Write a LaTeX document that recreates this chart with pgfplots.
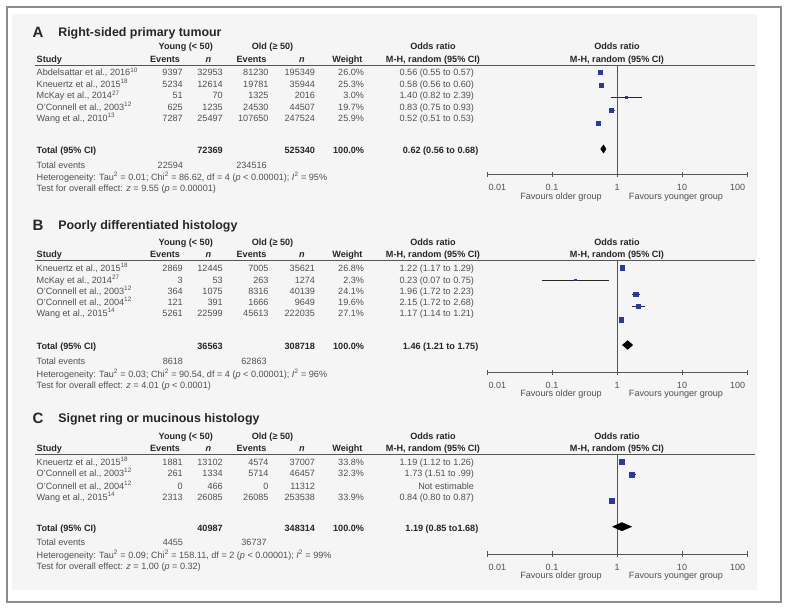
\documentclass[border=0pt]{standalone}
\usepackage{pgfplots}
\pgfplotsset{compat=1.18}
\usepackage{fontspec}
\setmainfont{Liberation Sans}
\definecolor{txt}{HTML}{505050}
\definecolor{hdr}{HTML}{262626}
\definecolor{sq}{HTML}{2B3A98}
\definecolor{rulec}{HTML}{555555}
\definecolor{framec}{HTML}{8C8C8C}
\definecolor{bg}{HTML}{F5F5F5}
\newcommand{\bodyfont}{\fontsize{9.1}{11}\selectfont}
\newcommand{\sups}[1]{\textsuperscript{#1}}

% table row: y, study, young events, young n, old events, old n, weight, OR
\newcommand{\trow}[8]{%
  \node[anchor=base west] at (36.7,#1+3.3) {#2};
  \node[anchor=base east] at (182.7,#1+3.3) {#3};
  \node[anchor=base east] at (222.7,#1+3.3) {#4};
  \node[anchor=base east] at (268.5,#1+3.3) {#5};
  \node[anchor=base east] at (315,#1+3.3) {#6};
  \node[anchor=base east] at (364,#1+3.3) {#7};
  \node[anchor=base east] at (474,#1+3.3) {#8};}
% header: top y, bottom y, rule y
\newcommand{\thd}[3]{%
  \node[anchor=base, font=\bodyfont\bfseries, text=hdr] at (185.8,#1+3.3) {Young (< 50)};
  \node[anchor=base, font=\bodyfont\bfseries, text=hdr] at (272.5,#1+3.3) {Old (≥ 50)};
  \node[anchor=base, font=\bodyfont\bfseries, text=hdr] at (433,#1+3.3) {Odds ratio};
  \node[anchor=base, font=\bodyfont\bfseries, text=hdr] at (617,#1+3.3) {Odds ratio};
  \node[anchor=base west, font=\bodyfont\bfseries, text=hdr] at (36.7,#2+3.3) {Study};
  \node[anchor=base east, font=\bodyfont\bfseries, text=hdr] at (180,#2+3.3) {Events};
  \node[anchor=base, font=\bodyfont\bfseries\itshape, text=hdr] at (208.5,#2+3.3) {n};
  \node[anchor=base east, font=\bodyfont\bfseries, text=hdr] at (266.5,#2+3.3) {Events};
  \node[anchor=base, font=\bodyfont\bfseries\itshape, text=hdr] at (302,#2+3.3) {n};
  \node[anchor=base east, font=\bodyfont\bfseries, text=hdr] at (362.5,#2+3.3) {Weight};
  \node[anchor=base, font=\bodyfont\bfseries, text=hdr] at (433,#2+3.3) {M-H, random (95\% CI)};
  \node[anchor=base, font=\bodyfont\bfseries, text=hdr] at (617,#2+3.3) {M-H, random (95\% CI)};
  \draw[rulec, line width=0.8pt] (35,#3) -- (755,#3);}
% total: y, young n, old n, OR
\newcommand{\ttot}[4]{%
  \node[anchor=base west, font=\bodyfont\bfseries, text=hdr] at (36.7,#1+3.3) {Total (95\% CI)};
  \node[anchor=base east, font=\bodyfont\bfseries, text=hdr] at (222.7,#1+3.3) {#2};
  \node[anchor=base east, font=\bodyfont\bfseries, text=hdr] at (315,#1+3.3) {#3};
  \node[anchor=base east, font=\bodyfont\bfseries, text=hdr] at (364,#1+3.3) {100.0\%};
  \node[anchor=base east, font=\bodyfont\bfseries, text=hdr] at (478.3,#1+3.3) {#4};}
% total events etc
\newcommand{\tft}[7]{%
  \node[anchor=base west] at (36.7,#1+3.3) {Total events};
  \node[anchor=base east] at (183,#1+3.3) {#2};
  \node[anchor=base east] at (266.7,#1+3.3) {#3};
  \node[anchor=base west] at (36.7,#4+3.3) {#5};
  \node[anchor=base west] at (36.7,#6+3.3) {#7};}
\newcommand{\ttl}[3]{%
  \node[anchor=base west, font=\fontsize{15}{16}\selectfont\bfseries, text=hdr] at (32.5,#1+5.4) {#2};
  \node[anchor=base west, font=\fontsize{12.4}{14}\selectfont\bfseries, text=hdr] at (58.3,#1+4.4) {#3};}
\newcommand{\fav}[1]{%
  \node[anchor=base] at (561,#1+3.3) {Favours older group};
  \node[anchor=base] at (676,#1+3.3) {Favours younger group};}

\begin{document}
\begin{tikzpicture}[x=1pt,y=-1pt]
\path (0,0) rectangle (790,610);
\fill[bg] (12,14) rectangle (757,590);
\draw[framec, line width=1.3pt] (7,7) rectangle (781,602);

\begin{scope}[every node/.style={inner sep=0pt, outer sep=0pt, font=\bodyfont, text=txt}]
% ---------------- Panel A ----------------
\ttl{32}{A}{Right-sided primary tumour}
\thd{46}{59}{65}
\trow{72.7}{Abdelsattar et al., 2016\sups{10}}{9397}{32953}{81230}{195349}{26.0\%}{0.56 (0.55 to 0.57)}
\trow{84.3}{Kneuertz et al., 2015\sups{18}}{5234}{12614}{19781}{35944}{25.3\%}{0.58 (0.56 to 0.60)}
\trow{95.7}{McKay et al., 2014\sups{27}}{51}{70}{1325}{2016}{3.0\%}{1.40 (0.82 to 2.39)}
\trow{107}{O'Connell et al., 2003\sups{12}}{625}{1235}{24530}{44507}{19.7\%}{0.83 (0.75 to 0.93)}
\trow{118}{Wang et al., 2010\sups{13}}{7287}{25497}{107650}{247524}{25.9\%}{0.52 (0.51 to 0.53)}
\ttot{150}{72369}{525340}{0.62 (0.56 to 0.68)}
\tft{164.7}{22594}{234516}{176.7}{Heterogeneity: Tau\sups{2} = 0.01; Chi\sups{2} = 86.62, df = 4 (\textit{p} < 0.00001); \textit{I}\sups{2} = 95\%}{187.7}{Test for overall effect: \textit{z} = 9.55 (\textit{p} = 0.00001)}
\fav{196}
% ---------------- Panel B ----------------
\ttl{225}{B}{Poorly differentiated histology}
\thd{242.3}{254}{260.5}
\trow{268.3}{Kneuertz et al., 2015\sups{18}}{2869}{12445}{7005}{35621}{26.8\%}{1.22 (1.17 to 1.29)}
\trow{280}{McKay et al., 2014\sups{27}}{3}{53}{263}{1274}{2.3\%}{0.23 (0.07 to 0.75)}
\trow{290.7}{O'Connell et al., 2003\sups{12}}{364}{1075}{8316}{40139}{24.1\%}{1.96 (1.72 to 2.23)}
\trow{301.7}{O'Connell et al., 2004\sups{12}}{121}{391}{1666}{9649}{19.6\%}{2.15 (1.72 to 2.68)}
\trow{312.7}{Wang et al., 2015\sups{14}}{5261}{22599}{45613}{222035}{27.1\%}{1.17 (1.14 to 1.21)}
\ttot{345.7}{36563}{308718}{1.46 (1.21 to 1.75)}
\tft{361}{8618}{62863}{374}{Heterogeneity: Tau\sups{2} = 0.03; Chi\sups{2} = 90.54, df = 4 (\textit{p} < 0.00001); \textit{I}\sups{2} = 96\%}{385}{Test for overall effect: \textit{z} = 4.01 (\textit{p} < 0.0001)}
\fav{393}
% ---------------- Panel C ----------------
\ttl{418}{C}{Signet ring or mucinous histology}
\thd{435.7}{447.7}{454.7}
\trow{462.3}{Kneuertz et al., 2015\sups{18}}{1881}{13102}{4574}{37007}{33.8\%}{1.19 (1.12 to 1.26)}
\trow{473.3}{O'Connell et al., 2003\sups{12}}{261}{1334}{5714}{46457}{32.3\%}{1.73 (1.51 to .99)}
\trow{485.7}{O'Connell et al., 2004\sups{12}}{0}{466}{0}{11312}{}{Not estimable}
\trow{496.7}{Wang et al., 2015\sups{14}}{2313}{26085}{26085}{253538}{33.9\%}{0.84 (0.80 to 0.87)}
\ttot{528.3}{40987}{348314}{1.19 (0.85 to1.68)}
\tft{542.3}{4455}{36737}{555}{Heterogeneity: Tau\sups{2} = 0.09; Chi\sups{2} = 158.11, df = 2 (\textit{p} < 0.00001); \textit{I}\sups{2} = 99\%}{565.7}{Test for overall effect: \textit{z} = 1.00 (\textit{p} = 0.32)}
\fav{575.5}
\end{scope}

% ---------------- Forest A ----------------
\begin{axis}[at={(487pt,-174.5pt)}, anchor=south west, scale only axis, width=260pt, height=109.5pt,
  xmode=log, xmin=0.01, xmax=100, ymin=-174.5, ymax=-65, clip=false,
  axis x line*=bottom, axis y line=none,
  xtick={0.01,0.1,1,10,100}, xticklabels={{\hspace*{20.6pt}0.01},0.1,1,10,{100\hspace*{18.8pt}}},
  tick align=center, major tick length=5.5pt, minor tick length=0pt,
  axis line style={rulec, line width=0.8pt}, tick style={rulec, line width=0.8pt},
  xticklabel style={font=\fontsize{9}{10}\selectfont, text=txt, inner sep=0pt, anchor=base, yshift=-13.3pt}]
\addplot[rulec, line width=0.8pt] coordinates {(1,-65) (1,-174.5)};
\addplot[black!85, line width=0.6pt] coordinates {(0.55,-72.3) (0.57,-72.3)};
\addplot[black!85, line width=0.6pt] coordinates {(0.56,-85.3) (0.60,-85.3)};
\addplot[black!85, line width=0.6pt] coordinates {(0.82,-97.7) (2.39,-97.7)};
\addplot[black!85, line width=0.6pt] coordinates {(0.75,-110.3) (0.93,-110.3)};
\addplot[black!85, line width=0.6pt] coordinates {(0.51,-123.7) (0.53,-123.7)};
\addplot[only marks, mark=square*, mark size=2.25, mark options={fill=sq, draw=sq, line width=0pt}] coordinates {(0.56,-72.3)};
\addplot[only marks, mark=square*, mark size=2.22, mark options={fill=sq, draw=sq, line width=0pt}] coordinates {(0.58,-85.3)};
\addplot[only marks, mark=square*, mark size=0.76, mark options={fill=sq, draw=sq, line width=0pt}] coordinates {(1.40,-97.7)};
\addplot[only marks, mark=square*, mark size=1.96, mark options={fill=sq, draw=sq, line width=0pt}] coordinates {(0.83,-110.3)};
\addplot[only marks, mark=square*, mark size=2.25, mark options={fill=sq, draw=sq, line width=0pt}] coordinates {(0.52,-123.7)};
\addplot[fill=black, draw=black, line width=0.3pt] coordinates {(0.56,-149) (0.62,-144.8) (0.68,-149) (0.62,-153.2) (0.56,-149)};
\end{axis}

% ---------------- Forest B ----------------
\begin{axis}[at={(487pt,-372.7pt)}, anchor=south west, scale only axis, width=260pt, height=112.2pt,
  xmode=log, xmin=0.01, xmax=100, ymin=-372.7, ymax=-260.5, clip=false,
  axis x line*=bottom, axis y line=none,
  xtick={0.01,0.1,1,10,100}, xticklabels={{\hspace*{20.6pt}0.01},0.1,1,10,{100\hspace*{18.8pt}}},
  tick align=center, major tick length=5.5pt, minor tick length=0pt,
  axis line style={rulec, line width=0.8pt}, tick style={rulec, line width=0.8pt},
  xticklabel style={font=\fontsize{9}{10}\selectfont, text=txt, inner sep=0pt, anchor=base, yshift=-13.3pt}]
\addplot[rulec, line width=0.8pt] coordinates {(1,-260.5) (1,-372.7)};
\addplot[black!85, line width=0.6pt] coordinates {(1.17,-268) (1.29,-268)};
\addplot[black!85, line width=0.6pt] coordinates {(0.07,-280.3) (0.75,-280.3)};
\addplot[black!85, line width=0.6pt] coordinates {(1.72,-294.3) (2.23,-294.3)};
\addplot[black!85, line width=0.6pt] coordinates {(1.72,-306.7) (2.68,-306.7)};
\addplot[black!85, line width=0.6pt] coordinates {(1.14,-319.7) (1.21,-319.7)};
\addplot[only marks, mark=square*, mark size=2.28, mark options={fill=sq, draw=sq, line width=0pt}] coordinates {(1.22,-268)};
\addplot[only marks, mark=square*, mark size=0.67, mark options={fill=sq, draw=sq, line width=0pt}] coordinates {(0.23,-280.3)};
\addplot[only marks, mark=square*, mark size=2.17, mark options={fill=sq, draw=sq, line width=0pt}] coordinates {(1.96,-294.3)};
\addplot[only marks, mark=square*, mark size=1.95, mark options={fill=sq, draw=sq, line width=0pt}] coordinates {(2.15,-306.7)};
\addplot[only marks, mark=square*, mark size=2.30, mark options={fill=sq, draw=sq, line width=0pt}] coordinates {(1.17,-319.7)};
\addplot[fill=black, draw=black, line width=0.3pt] coordinates {(1.21,-345) (1.46,-340.5) (1.75,-345) (1.46,-349.5) (1.21,-345)};
\end{axis}

% ---------------- Forest C ----------------
\begin{axis}[at={(487pt,-554pt)}, anchor=south west, scale only axis, width=260pt, height=99.3pt,
  xmode=log, xmin=0.01, xmax=100, ymin=-554, ymax=-454.7, clip=false,
  axis x line*=bottom, axis y line=none,
  xtick={0.01,0.1,1,10,100}, xticklabels={{\hspace*{20.6pt}0.01},0.1,1,10,{100\hspace*{18.8pt}}},
  tick align=center, major tick length=5.5pt, minor tick length=0pt,
  axis line style={rulec, line width=0.8pt}, tick style={rulec, line width=0.8pt},
  xticklabel style={font=\fontsize{9}{10}\selectfont, text=txt, inner sep=0pt, anchor=base, yshift=-13.3pt}]
\addplot[rulec, line width=0.8pt] coordinates {(1,-454.7) (1,-554)};
\addplot[black!85, line width=0.6pt] coordinates {(1.12,-461.7) (1.26,-461.7)};
\addplot[black!85, line width=0.6pt] coordinates {(1.51,-474.7) (1.99,-474.7)};
\addplot[black!85, line width=0.6pt] coordinates {(0.80,-500.7) (0.87,-500.7)};
\addplot[only marks, mark=square*, mark size=2.57, mark options={fill=sq, draw=sq, line width=0pt}] coordinates {(1.19,-461.7)};
\addplot[only marks, mark=square*, mark size=2.51, mark options={fill=sq, draw=sq, line width=0pt}] coordinates {(1.73,-474.7)};
\addplot[only marks, mark=square*, mark size=2.57, mark options={fill=sq, draw=sq, line width=0pt}] coordinates {(0.84,-500.7)};
\addplot[fill=black, draw=black, line width=0.3pt] coordinates {(0.85,-526.7) (1.19,-522.5) (1.68,-526.7) (1.19,-530.9) (0.85,-526.7)};
\end{axis}
\end{tikzpicture}
\end{document}
